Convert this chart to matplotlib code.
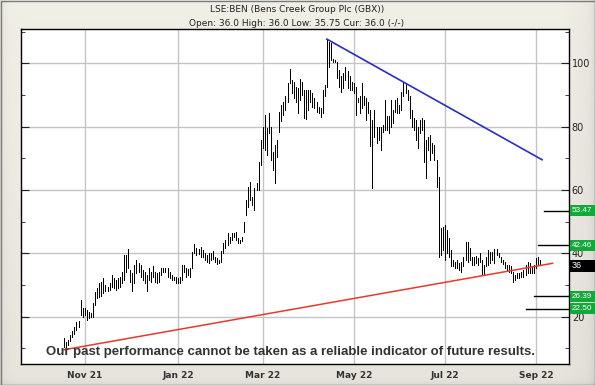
import numpy as np
import pandas as pd
import matplotlib
matplotlib.use("Agg")
import matplotlib.pyplot as plt
import matplotlib.transforms as mtransforms
from matplotlib.patches import Rectangle

# daily high / low, one pair per trading day from 18 Oct 2021
highs = [13.3, 12.0, 12.6, 14.2, 15.5, 16.8, 18.2, 18.5, 25.2, 22.7,
         22.7, 22.0, 21.5, 21.2, 24.3, 27.8, 29.0, 30.6,
         31.0, 32.2, 30.0, 29.4, 30.6, 33.1, 32.2, 31.6, 32.2, 32.6,
         34.2, 39.4, 39.4, 41.3, 34.7, 33.7, 36.3, 37.9, 36.9, 36.3,
         34.7, 34.2, 33.1, 35.3, 34.2, 35.8, 34.2, 33.8, 34.2, 35.3,
         35.3, 35.3, 35.3, 34.2, 33.1, 32.6, 32.6, 32.2, 32.6, 36.3,
         36.3, 35.3, 35.0, 35.3, 40.5,
         42.8, 41.6, 41.2, 41.9, 41.0, 40.2, 39.4, 40.2, 40.0, 40.6,
         38.9, 38.4, 37.9, 40.7, 43.1, 44.2, 46.5, 45.2, 46.3, 46.5,
         46.8, 44.7, 44.2, 45.2, 49.7, 56.8, 61.0, 62.6, 57.9, 60.5,
         62.3, 68.9, 75.8, 80.0, 83.7, 79.5, 84.4, 80.0, 72.1, 74.2,
         75.8, 84.7, 86.8, 87.9, 89.5, 93.7, 98.1,
         94.7, 94.2, 92.6, 92.1, 94.9, 94.2, 91.6, 91.4, 91.6, 91.4,
         90.5, 88.9, 87.9, 86.3, 85.8, 91.6, 93.2, 107.4, 106.8, 106.3,
         101.3, 101.0, 100.5, 97.9, 95.8, 96.8, 98.9, 97.4, 95.8, 94.2,
         93.7, 92.6, 88.9, 89.5, 93.7, 89.5, 88.9, 87.9, 85.3, 82.1,
         85.3, 80.0, 80.0, 80.0, 80.5, 88.4, 83.2, 83.4, 88.4, 85.3,
         88.4, 88.9, 86.8, 91.0, 94.2, 93.7, 91.6, 89.5, 85.3, 82.6,
         82.1, 80.0, 82.1, 82.6, 82.1, 75.8, 76.8, 77.4, 74.7, 74.2,
         69.5, 64.2,
         47.9, 48.4, 48.9, 47.3, 44.7, 41.0, 37.9, 37.3, 37.9, 36.8,
         37.3, 38.9, 43.6, 43.6, 41.6, 38.9, 38.9, 39.2, 38.4, 40.2,
         37.9, 36.3, 38.9, 41.0, 40.5, 40.5, 41.2, 41.2, 40.0, 38.9,
         37.9, 37.3, 36.3, 36.3, 35.8, 34.2, 33.1, 33.7, 33.7, 34.2,
         34.7, 36.3, 37.3, 36.8, 35.8, 36.3, 38.4, 38.9, 37.9]
lows = [10.4, 10.4, 11.0, 12.3, 13.6, 14.5, 15.7, 16.8, 20.5, 19.9,
        20.5, 19.0, 19.5, 19.9, 20.0, 23.7, 26.0, 26.2,
        26.5, 27.4, 27.9, 27.9, 28.4, 29.4, 29.0, 28.4, 29.0, 29.4,
        30.5, 31.6, 34.2, 35.3, 31.0, 27.9, 30.6, 33.7, 34.1, 32.6,
        31.6, 30.5, 27.9, 31.6, 31.0, 32.6, 31.0, 30.6, 31.0, 33.1,
        34.2, 34.2, 32.6, 32.2, 31.6, 31.6, 30.5, 30.5, 30.5, 31.6,
        34.2, 32.6, 33.1, 32.6, 35.3,
        40.0, 39.5, 39.8, 38.9, 38.9, 37.7, 37.3, 37.0, 37.9, 38.1,
        37.3, 36.6, 36.8, 37.1, 40.0, 41.6, 42.6, 43.3, 44.2, 45.0,
        44.2, 43.3, 43.3, 43.7, 46.8, 52.1, 54.7, 56.8, 55.3, 53.7,
        59.8, 60.0, 67.9, 73.1, 72.6, 71.0, 77.9, 69.5, 66.3, 62.1,
        70.5, 78.4, 81.6, 83.7, 85.2, 87.6, 93.7,
        90.5, 88.9, 87.9, 84.2, 88.4, 90.0, 82.6, 82.3, 85.3, 87.9,
        86.3, 85.8, 84.7, 84.2, 83.1, 84.2, 89.5, 92.6, 98.9, 101.0,
        100.5, 100.5, 95.3, 92.6, 91.0, 92.1, 94.7, 92.1, 91.6, 91.6,
        90.5, 83.7, 87.9, 84.2, 85.8, 86.8, 82.1, 84.2, 73.7, 60.5,
        76.8, 74.7, 75.8, 72.6, 78.4, 78.9, 78.9, 77.9, 80.0, 81.0,
        84.7, 84.2, 84.2, 85.3, 89.5, 90.5, 88.4, 82.6, 80.0, 78.9,
        75.8, 73.2, 77.9, 78.9, 68.9, 63.7, 72.6, 69.5, 71.6, 69.5,
        61.0, 38.9,
        39.5, 41.0, 37.9, 40.0, 38.9, 35.8, 35.8, 35.2, 35.2, 34.7,
        34.2, 35.8, 37.9, 37.3, 37.9, 36.3, 36.3, 36.8, 36.3, 37.3,
        33.1, 33.1, 35.8, 36.3, 36.8, 37.9, 36.8, 39.4, 38.9, 37.3,
        36.6, 35.2, 34.5, 34.2, 33.7, 31.0, 31.6, 32.1, 32.1, 32.6,
        32.6, 33.1, 33.7, 33.7, 33.7, 33.7, 35.2, 36.3, 36.3]

title = "LSE:BEN (Bens Creek Group Plc (GBX))"
subtitle = "Open: 36.0 High: 36.0 Low: 35.75 Cur: 36.0 (-/-)"
disclaimer = "Our past performance cannot be taken as a reliable indicator of future results."

# trend lines: (bar index, price) end points
red_line = ([0, 236], [9.5, 36.8])
blue_line = ([127, 231], [107.6, 69.5])

# price levels shown at the right edge
level_values = [53.47, 42.46, 26.39, 22.50]
level_texts = ["53.47", "42.46", "26.39", "22.50"]
level_starts = [232, 229, 227, 223]
current_value = 36.0
current_text = "36"

tick_months = [11, 1, 3, 5, 7, 9]

dates = pd.bdate_range("2021-10-18", periods=len(highs))
x = np.arange(len(highs))

W, H = 595, 385
fig = plt.figure(figsize=(W / 100, H / 100), dpi=100)

# beige bevelled frame behind everything
bg = fig.add_axes([0, 0, 1, 1], zorder=-5)
yy, xx = np.mgrid[0:H, 0:W]
shade = 0.905 + 0.04 * (1 - yy / H) - 0.03 * np.clip((xx - 560) / 35, 0, 1)
shade -= 0.06 * np.exp(-xx / 4.0) + 0.05 * np.exp(-(W - 1 - xx) / 3.0)
shade -= 0.05 * np.exp(-(H - 1 - yy) / 3.0)
img = np.dstack([shade * 1.0, shade * 0.99, shade * 0.955])
bg.imshow(np.clip(img, 0, 1), aspect="auto", extent=(0, W, H, 0))
bg.add_patch(Rectangle((0.5, 0.5), W - 1, H - 1, fill=False, ec="#7a7a7a", lw=1))
bg.set_xlim(0, W)
bg.set_ylim(H, 0)
bg.axis("off")

ax = fig.add_axes([21 / W, 1 - 364 / H, 548 / W, 335 / H])
ax.set_facecolor("white")

# month grid from the trading calendar
tick_pos, tick_lab = [], []
for i in range(1, len(dates)):
    if dates[i].month != dates[i - 1].month and dates[i].month in tick_months:
        tick_pos.append(i)
        tick_lab.append(dates[i].strftime("%b %y"))

ax.vlines(x, lows, highs, color="black", lw=0.72, antialiased=False, zorder=3)
ax.plot(red_line[0], red_line[1], color="#e8392b", lw=1.1, zorder=4)
ax.plot(blue_line[0], blue_line[1], color="#2b2bd0", lw=1.2, zorder=4)

xmin, xmax = -20.8, 244.0
ax.set_xlim(xmin, xmax)
ax.set_ylim(5.0, 110.8)

ax.set_xticks(tick_pos)
ax.set_xticklabels(tick_lab, fontsize=6.5, fontweight="bold", color="#333333")
ax.set_yticks([20, 40, 60, 80, 100])
ax.set_yticks([10, 30, 50, 70, 90, 110], minor=True)
ax.grid(True, which="major", color="#c4c4c4", lw=1)
ax.set_axisbelow(True)
ax.tick_params(axis="x", length=0, pad=5)
ax.tick_params(axis="y", which="both", direction="in", left=True, right=True,
               labelleft=False, labelright=True, labelsize=7, colors="#222222", pad=2)
ax.tick_params(axis="y", which="major", length=6)
ax.tick_params(axis="y", which="minor", length=3)
for s in ax.spines.values():
    s.set_color("black")
    s.set_linewidth(1)

# value boxes run from the right spine to the picture edge
box_trans = mtransforms.blended_transform_factory(ax.transAxes, ax.transData)
box_w = 26 / 548
box_h = 3.6
box_font = ["Liberation Sans", "DejaVu Sans"]
for v, t, s in zip(level_values, level_texts, level_starts):
    ax.plot([s, xmax], [v, v], color="black", lw=1, clip_on=False, zorder=5)
    ax.add_patch(Rectangle((1.002, v - box_h / 2), box_w, box_h, transform=box_trans,
                           fc="#14a83c", ec="none", clip_on=False, zorder=6))
    ax.text(1.0045, v, t, transform=box_trans, color="white", fontsize=5.9,
            va="center", ha="left", family=box_font, clip_on=False, zorder=7)
ax.add_patch(Rectangle((1.002, current_value - box_h / 2), box_w, box_h,
                       transform=box_trans, fc="black", ec="none", clip_on=False, zorder=6))
ax.text(1.0045, current_value, current_text, transform=box_trans, color="white",
        fontsize=6.5, va="center", ha="left", family=box_font, clip_on=False, zorder=7)

fig.text(297 / W, 1 - 10 / H, title, ha="center", va="center", fontsize=6.5, color="#222222")
fig.text(297 / W, 1 - 23 / H, subtitle, ha="center", va="center", fontsize=6.5, color="#222222")
fig.text(291 / W, 1 - 352 / H, disclaimer, ha="center", va="center", fontsize=9.5,
         fontweight="bold", color="#333333",
         family=["Liberation Sans", "DejaVu Sans"], zorder=10)

fig.savefig("out.png", dpi=100)
